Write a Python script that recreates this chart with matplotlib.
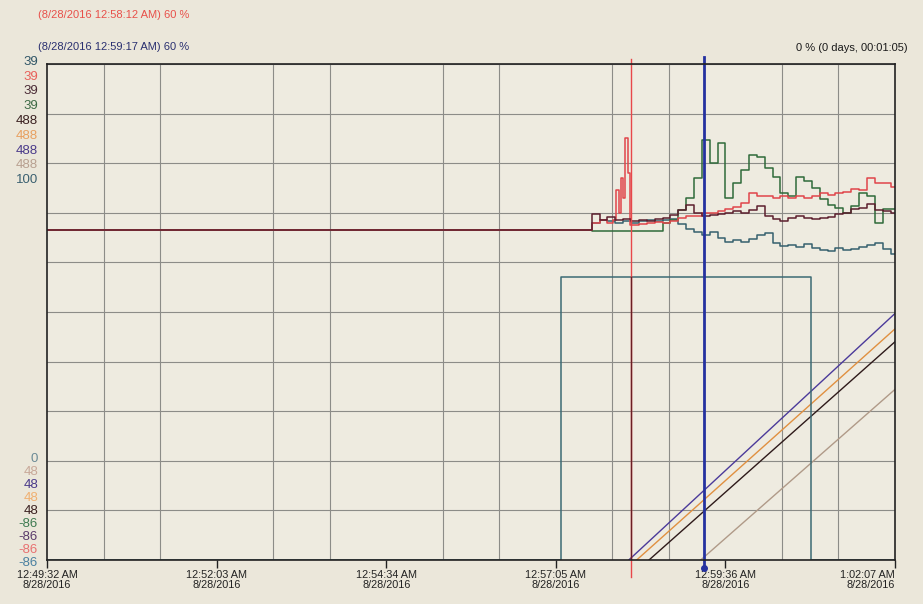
import matplotlib.pyplot as plt

plt.rcParams['font.family'] = ['Liberation Sans', 'DejaVu Sans']

# x axis: seconds after 12:49:32 AM, y axis: percent of the chart height
span = 755
tick_secs = [0, 151, 302, 453, 604, 755]
tick_labels = ['12:49:32 AM\n8/28/2016', '12:52:03 AM\n8/28/2016', '12:54:34 AM\n8/28/2016',
               '12:57:05 AM\n8/28/2016', '12:59:36 AM\n8/28/2016', '1:02:07 AM\n8/28/2016']

baseline = 66.5

# sampled pens (share a flat start)
t_grid = [0, 485, 492, 499, 506, 513, 520, 527, 534, 541, 548, 555, 562, 569, 576, 583, 590,
          597, 604, 611, 618, 625, 632, 639, 646, 653, 660, 667, 674, 681, 688, 695, 702,
          709, 716, 723, 730, 737, 744, 751, 755]
teal_vals = [baseline, 68.0, 68.5, 68.3, 68.0, 68.3, 68.0, 68.3, 68.5, 68.3, 68.6, 68.8, 67.8,
             66.7, 66.2, 65.5, 66.2, 65.0, 64.2, 64.6, 64.2, 64.8, 65.5, 66.0, 64.0, 63.3,
             63.6, 63.2, 63.8, 63.0, 62.6, 62.2, 63.0, 62.5, 62.8, 63.2, 63.6, 64.0, 62.8,
             61.6, 61.6]
maroon_vals = [baseline, 69.7, 68.5, 69.2, 68.5, 68.8, 68.3, 68.6, 68.3, 68.8, 69.0, 69.5, 70.5,
               71.5, 70.0, 69.3, 69.5, 69.8, 70.0, 70.3, 70.0, 70.5, 71.3, 69.3, 68.7, 68.3,
               69.0, 69.3, 69.0, 68.7, 69.0, 69.2, 69.8, 70.0, 70.7, 71.0, 71.7, 70.5, 70.3,
               70.0, 70.0]
green_vals = [baseline, 66.3, 66.3, 66.3, 66.3, 66.3, 66.3, 66.3, 66.3, 66.3, 68.0, 68.5, 70.5,
              73.0, 77.0, 84.7, 80.0, 84.0, 73.0, 76.0, 78.7, 81.7, 81.3, 79.0, 77.3, 74.0,
              73.3, 77.3, 76.5, 75.0, 72.7, 71.5, 71.0, 70.0, 71.3, 74.0, 73.3, 68.0, 70.7,
              70.7, 70.7]

red_t = [0, 485, 492, 499, 504, 507, 509, 511, 513, 515, 517, 519, 527, 534, 541, 548, 555,
         562, 569, 576, 583, 590, 597, 604, 611, 618, 625, 632, 639, 646, 653, 660, 667,
         674, 681, 688, 695, 702, 709, 716, 723, 730, 737, 744, 751, 755]
red_vals = [baseline, 68.0, 68.5, 68.0, 68.5, 74.5, 70.0, 77.0, 73.0, 85.0, 78.0, 67.5, 67.8,
            68.0, 68.2, 68.0, 68.4, 69.0, 69.3, 69.3, 70.0, 70.0, 70.3, 70.7, 71.2, 72.0,
            74.0, 73.3, 73.3, 73.0, 73.3, 73.0, 73.3, 73.0, 73.3, 74.0, 73.5, 74.0, 74.2,
            74.7, 74.5, 77.0, 76.0, 76.0, 75.3, 75.3]

# digital pen (0 / 100 scale)
rect_t = [0, 458, 680, 755]
rect_vals = [0, 57, 0, 0]

# counters (start, end)
ramp_t = {'purple': [518, 755], 'orange': [525, 755], 'brown': [536, 755], 'tan': [582, 755]}
ramp_vals = {'purple': [0, 49.7], 'orange': [0, 46.6], 'brown': [0, 44.0], 'tan': [0, 34.4]}

cursor_red = 520    # 12:58:12 AM
cursor_blue = 585   # 12:59:17 AM

top_labels = ['39', '39', '39', '39', '488', '488', '488', '488', '100']
top_colors = ['#2f5566', '#e8605a', '#4a2a35', '#3d6a45', '#3a2020', '#e8a060', '#4a3a8a',
              '#b8a090', '#3a6070']
bottom_labels = ['0', '48', '48', '48', '48', '-86', '-86', '-86', '-86']
bottom_colors = ['#6a8a95', '#c8a898', '#4a3a8a', '#f0b070', '#3a2020', '#3d7a50', '#5a3a6a',
                 '#e87070', '#4a80a0']

W, H = 923, 604
fig = plt.figure(figsize=(W / 100, H / 100), dpi=100, facecolor='#ebe7da')
ax = fig.add_axes([47 / W, 1 - 560 / H, 848 / W, 496 / H], facecolor='#eeebe0')

ax.set_xlim(0, span)
ax.set_ylim(0, 100)
ax.set_xticks([span * i / 15 for i in range(16)], minor=True)
ax.set_yticks(range(0, 101, 10))
ax.set_yticklabels([])
ax.tick_params(axis='y', length=0)
ax.tick_params(axis='x', which='minor', length=0)
ax.set_xticks(tick_secs)
ax.set_xticklabels(tick_labels, fontsize=7.8, color='#222222', linespacing=1.05)
ax.get_xticklabels()[-1].set_ha('right')
ax.get_xticklabels()[-1].set_x(span + 8)
ax.tick_params(axis='x', which='major', length=6, width=1, color='#222222', pad=1)
ax.grid(True, which='minor', axis='x', color='#8c8c88', lw=0.8)
ax.grid(True, which='major', axis='y', color='#8c8c88', lw=0.8)
for s in ax.spines.values():
    s.set_color('#222222')
    s.set_linewidth(1.2)

# pens
ax.plot(ramp_t['tan'], ramp_vals['tan'], color='#b09a88', lw=1)
ax.plot(ramp_t['brown'], ramp_vals['brown'], color='#2e1a1a', lw=1)
ax.plot(ramp_t['orange'], ramp_vals['orange'], color='#e09040', lw=1)
ax.plot(ramp_t['purple'], ramp_vals['purple'], color='#4b3a9a', lw=1)
ax.plot(rect_t, rect_vals, color='#3c6a74', lw=1.1, drawstyle='steps-post')
ax.plot(t_grid, teal_vals, color='#35606e', lw=1.1, drawstyle='steps-post')
ax.plot(t_grid, green_vals, color='#2f6a3a', lw=1.1, drawstyle='steps-post')
ax.plot(red_t, red_vals, color='#e0454a', lw=1.1, drawstyle='steps-post')
ax.plot(t_grid, maroon_vals, color='#5c1f2e', lw=1.1, drawstyle='steps-post')

# cursors
ax.axvline(cursor_red, ymin=-0.035, ymax=1.01, color='#e8474a', lw=1, clip_on=False)
ax.plot([cursor_red, cursor_red], [0, 57], color='#6a1e24', lw=1)
ax.axvline(cursor_blue, ymin=-0.015, ymax=1.015, color='#2431a0', lw=2, clip_on=False)
ax.plot([cursor_blue], [-1.6], 'o', color='#2431a0', ms=4, clip_on=False)

# stacked scale labels
for i, (lab, c) in enumerate(zip(top_labels, top_colors)):
    fig.text(38 / W, 1 - (62 + i * 14.75) / H, lab, color=c, fontsize=9.5,
             ha='right', va='center')
for i, (lab, c) in enumerate(zip(bottom_labels, bottom_colors)):
    fig.text(38 / W, 1 - (459 + i * 13) / H, lab, color=c, fontsize=9.5,
             ha='right', va='center')

# header
fig.text(38 / W, 1 - 15 / H, '(8/28/2016 12:58:12 AM) 60 %', color='#e8504a', fontsize=8,
         va='center')
fig.text(38 / W, 1 - 47 / H, '(8/28/2016 12:59:17 AM) 60 %', color='#2a3070', fontsize=8,
         va='center')
fig.text(908 / W, 1 - 48 / H, '0 % (0 days, 00:01:05)', color='#1a1a1a', fontsize=8,
         ha='right', va='center')

fig.savefig('out.png', dpi=100, facecolor=fig.get_facecolor())
